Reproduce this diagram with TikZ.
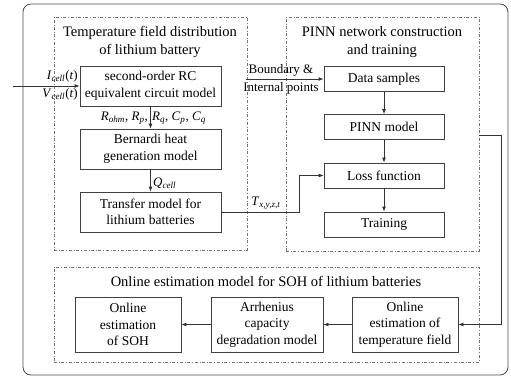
\documentclass[tikz,border=0pt]{standalone}
\usepackage{fontspec}
\setmainfont{Liberation Serif}
\usetikzlibrary{arrows.meta}
\newcommand{\mvar}[2]{\textit{#1}\textsubscript{\textit{#2}}}
\begin{document}
\begin{tikzpicture}[x=1pt,y=-1pt,
  blk/.style={draw=black!75, line width=0.8pt, align=center, inner sep=0pt, font=\rmfamily\fontsize{13.5}{16.5}\selectfont},
  grp/.style={draw=black!55, dash dot, line width=0.6pt, inner sep=0pt},
  ttl/.style={align=center, font=\rmfamily\fontsize{14.5}{18}\selectfont},
  arr/.style={-{Latex[length=5pt,width=4pt]}, line width=0.8pt, draw=black!80},
  lbl/.style={font=\rmfamily\fontsize{13}{15}\selectfont, inner sep=1pt},
  mlbl/.style={font=\rmfamily\fontsize{13}{15}\selectfont, inner sep=1pt}
]
\useasboundingbox (0,0) rectangle (511,377);
\node[draw=black!70, line width=0.8pt, rounded corners=8pt, minimum width=485pt, minimum height=371pt, inner sep=0pt] (frame) at (265.5,189.5) {};
% groups
\node[grp, minimum width=193pt, minimum height=233pt] (g1) at (150.5,133.5) {};
\node[grp, minimum width=193pt, minimum height=234pt] (g2) at (382.5,134) {};
\node[grp, minimum width=425pt, minimum height=95pt] (g3) at (266.5,314.5) {};
\node[ttl] (t1) at (150,42) {Temperature field distribution\\of lithium battery};
\node[ttl] (t2) at (382,42) {PINN network construction\\and training};
\node[ttl] (t3) at (266,281) {Online estimation model for SOH of lithium batteries};
% left boxes
\node[blk, minimum width=141pt, minimum height=40pt] (rc) at (150.5,86) {second-order RC\\equivalent circuit model};
\node[blk, minimum width=141pt, minimum height=40pt] (bh) at (150.5,149) {Bernardi heat\\generation model};
\node[blk, minimum width=141pt, minimum height=40pt] (tm) at (150.5,212) {Transfer model for\\lithium batteries};
% right boxes
\node[blk, minimum width=120pt, minimum height=25pt] (ds) at (384,79) {Data samples};
\node[blk, minimum width=120pt, minimum height=25pt] (pm) at (384,127) {PINN model};
\node[blk, minimum width=120pt, minimum height=25pt] (lf) at (384,175.5) {Loss function};
\node[blk, minimum width=120pt, minimum height=25pt] (tr) at (384,224.5) {Training};
% bottom boxes
\node[blk, minimum width=106pt, minimum height=55pt] (soh) at (128,324.5) {Online\\estimation\\of SOH};
\node[blk, minimum width=112pt, minimum height=55pt] (arh) at (267,324.5) {Arrhenius\\capacity\\degradation model};
\node[blk, minimum width=106pt, minimum height=55pt] (otf) at (405,324.5) {Online\\estimation of\\temperature field};
% input
\coordinate (in) at (13,86);
\draw[arr] (in) -- (rc.west);
\node[mlbl, anchor=east] (il) at (79,76) {\mvar{I}{cell}(\textit{t})};
\node[mlbl, anchor=east] (vl) at (79,94) {\mvar{V}{cell}(\textit{t})};
% left chain
\draw[arr] (rc) -- (bh);
\node[mlbl, anchor=east] (r1) at (149,118) {\mvar{R}{ohm}, \mvar{R}{p},};
\node[mlbl, anchor=west] (r2) at (151,118) {\mvar{R}{q}, \mvar{C}{p}, \mvar{C}{q}};
\draw[arr] (bh) -- (tm);
\node[mlbl, anchor=west] (q) at (152,183) {\mvar{Q}{cell}};
% transfer -> loss
\coordinate (k1) at (299,212);
\draw[arr] (tm.east) -- (k1) |- (lf.west);
\node[mlbl] (txyz) at (266,203) {\mvar{T}{x,y,z,t}};
% boundary
\coordinate (bs) at (246,79);
\draw[arr] (bs) -- (ds.west);
\node[lbl] (b1) at (281,70) {Boundary \&};
\node[lbl] (b2) at (281,88) {Internal points};
% right chain
\draw[arr] (ds) -- (pm);
\draw[arr] (pm) -- (lf);
\draw[arr] (lf) -- (tr);
\coordinate (p1) at (479,135);
\coordinate (p2) at (501,135);
\draw[arr] (p1) -- (p2) |- (otf.east);
% bottom chain
\draw[arr] (otf) -- (arh);
\draw[arr] (arh) -- (soh);
\end{tikzpicture}
\end{document}
